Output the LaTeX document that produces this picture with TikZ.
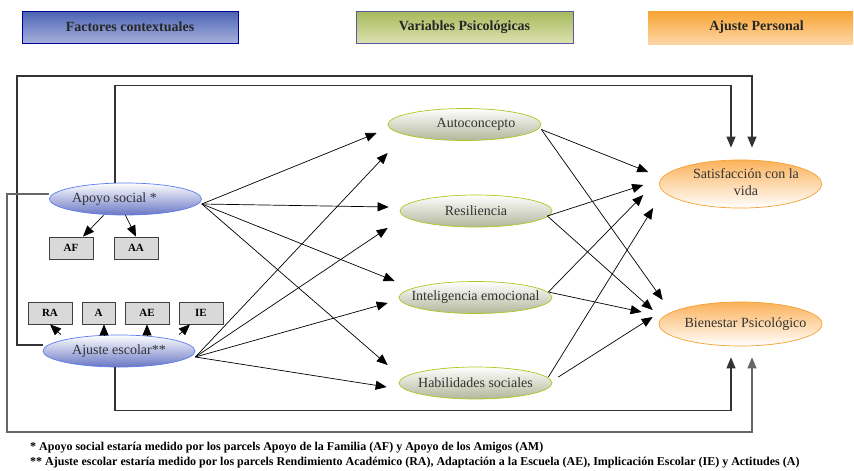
\documentclass[tikz,border=0pt]{standalone}
\usepackage{fontspec}
\setmainfont{Liberation Serif}
\usetikzlibrary{arrows.meta,shapes.geometric}

\definecolor{hdrazularriba}{HTML}{4A63B3}
\definecolor{hdrazulabajo}{HTML}{A7B0DC}
\definecolor{hdrverdearriba}{HTML}{A7B95A}
\definecolor{hdrverdeabajo}{HTML}{DCE1B0}
\definecolor{hdrnaranjaarriba}{HTML}{F7A432}
\definecolor{hdrnaranjaabajo}{HTML}{FDD6A5}
\definecolor{bordeazul}{HTML}{5B7BF0}
\definecolor{fondoazul}{HTML}{6A77C4}
\definecolor{bordeverde}{HTML}{A4CC20}
\definecolor{fondoverde}{HTML}{B2B79A}
\definecolor{bordenaranja}{HTML}{F7A030}
\definecolor{fondonaranja}{HTML}{FBB25A}

\newcommand\rotulo[2][0pt]{\makebox[0pt]{\hspace*{#1}\hspace*{#1}#2}}

\begin{document}
\begin{tikzpicture}[x=1pt,y=-1pt,
  arr/.style={-{Triangle[length=11pt,width=9pt]},line width=0.7pt},
  lazo/.style={arr,line width=1.1pt,draw=black!80},
  hdr/.style={rectangle,minimum height=32pt,font=\fontsize{14}{16}\selectfont\bfseries,text=black!85,line width=0.8pt},
  elip/.style={ellipse,minimum height=32pt,minimum width=152pt,inner sep=0pt,font=\fontsize{14}{17}\selectfont,text=black!80,line width=0.7pt},
  azul/.style={elip,draw=bordeazul,top color=white,bottom color=fondoazul},
  verde/.style={elip,draw=bordeverde,top color=white,bottom color=fondoverde},
  naranja/.style={elip,draw=bordenaranja,top color=fondonaranja,bottom color=white},
  caja/.style={rectangle,draw=black!75,fill=black!15,minimum height=22pt,minimum width=44pt,inner sep=0pt,font=\fontsize{11}{13}\selectfont\bfseries,line width=0.8pt},
  nota/.style={anchor=west,inner sep=0pt,font=\fontsize{12}{14}\selectfont\bfseries}]
  \useasboundingbox (0,0) rectangle (854,471);

  % 标题
  \node[hdr,draw=blue!60!black,top color=hdrazularriba,bottom color=hdrazulabajo,minimum width=216pt] (hfac) at (130,27) {Factores contextuales};
  \node[hdr,draw=blue!30!gray,top color=hdrverdearriba,bottom color=hdrverdeabajo,minimum width=217pt] (hvar) at (464.5,27) {Variables Psicológicas};
  \node[hdr,top color=hdrnaranjaarriba,bottom color=hdrnaranjaabajo,minimum width=205pt,minimum height=33pt] (haju) at (750.5,27.5) {\rotulo[6pt]{Ajuste Personal}};

  % 椭圆
  \node[azul] (apoyo) at (125.5,199) {\rotulo[-11pt]{Apoyo social *}};
  \node[azul] (ajuste) at (119,351) {\rotulo{Ajuste escolar**}};
  \node[verde,minimum width=153pt] (auto) at (464.5,124.5) {\rotulo[11.5pt]{Autoconcepto}};
  \node[verde] (resil) at (476,211) {\rotulo{Resiliencia}};
  \node[verde,minimum width=153pt] (intel) at (475.5,297.5) {\rotulo{Inteligencia emocional}};
  \node[verde,minimum width=153pt] (habil) at (475.5,383) {\rotulo{Habilidades sociales}};
  \node[naranja,minimum width=162pt,minimum height=44pt] (satis) at (740.5,184) {\rotulo[5.5pt]{\begin{tabular}{@{}c@{}}Satisfacción con la\\vida\end{tabular}}};
  \node[naranja,minimum width=163pt,minimum height=44pt] (bienes) at (740.5,324) {\rotulo[5pt]{Bienestar Psicológico}};

  % 方框
  \node[caja] (af) at (71,248) {AF};
  \node[caja] (aa) at (136,248) {AA};
  \node[caja] (ra) at (50,313) {RA};
  \node[caja,minimum width=33pt] (act) at (98.5,313) {A};
  \node[caja] (ae) at (147,313) {AE};
  \node[caja] (ie) at (201,313) {IE};

  \draw[arr] ([xshift=-22pt]apoyo.south) -- ([xshift=12pt]af.north);
  \draw[arr] (apoyo.south) -- (aa.north);
  \draw[arr] ([xshift=-58pt]ajuste.north) -- (ra.south);
  \draw[arr] ([xshift=-15pt]ajuste.north) -- ([xshift=5.5pt]act.south);
  \draw[arr] ([xshift=28pt]ajuste.north) -- (ae.south);
  \draw[arr] ([xshift=60pt]ajuste.north) -- ([xshift=-11pt]ie.south);

  % 左 -> 中
  \foreach \t/\dx/\dy in {auto/-11/-8.5, resil/-11/4, intel/-4/16.5, habil/-11/18} {
      \draw[arr] ([yshift=-5pt]apoyo.east) -- ([xshift=\dx pt,yshift=\dy pt]\t.west);
  }
  \foreach \t/\dx/\dy in {auto/0/-28.5, resil/-12/-17, intel/-11/-5.5, habil/-12/-4} {
      \draw[arr] ([yshift=-6pt]ajuste.east) -- ([xshift=\dx pt,yshift=\dy pt]\t.west);
  }

  % 中 -> 右
  \foreach \s/\sx/\sy/\t/\dx/\dy in {auto/0/-5/satis/-11/12, auto/0/-5/bienes/4/24,
                                     resil/-5/-5/satis/-16/-1, resil/-5/-5/bienes/-6/14,
                                     intel/-4/5.5/satis/-16/-11, intel/-4/5.5/bienes/-17/12,
                                     habil/-4/6/satis/-6/-24, habil/6/6/bienes/-6/7} {
      \draw[arr] ([xshift=\sx pt,yshift=\sy pt]\s.east) -- ([xshift=\dx pt,yshift=\dy pt]\t.west);
  }

  % 外框线
  \draw[lazo] ([xshift=-10.5pt]apoyo.north) -- ++(0,-97) -| ([xshift=-9.5pt,yshift=12pt]satis.north);
  \draw[lazo] ([yshift=6pt]ajuste.west) -| (17,76) -| ([xshift=11.5pt,yshift=12pt]satis.north);
  \draw[lazo] ([xshift=-4pt]ajuste.south) -- ++(0,43) -| ([xshift=-9.5pt,yshift=-11pt]bienes.south);
  \draw[lazo,draw=black!60] ([yshift=5pt]apoyo.west) -| (7,432) -| ([xshift=11.5pt,yshift=-11pt]bienes.south);

  % 注
  \node[nota] (nota1) at (30,448) {* Apoyo social estaría medido por los parcels Apoyo de la Familia (AF) y Apoyo de los Amigos (AM)};
  \node[nota] (nota2) at (30,463) {** Ajuste escolar estaría medido por los parcels Rendimiento Académico (RA), Adaptación a la Escuela (AE), Implicación Escolar (IE) y Actitudes (A)};
\end{tikzpicture}
\end{document}
